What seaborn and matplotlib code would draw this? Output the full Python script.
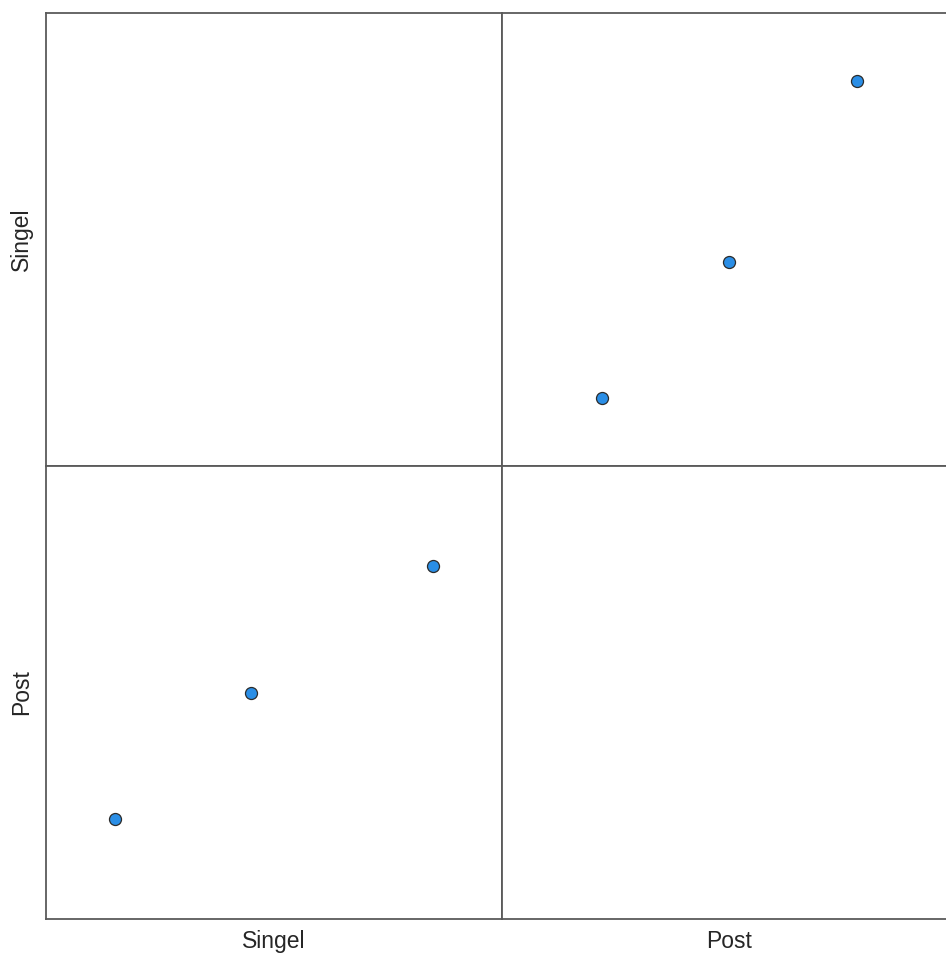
import matplotlib
matplotlib.use("Agg")
import matplotlib.pyplot as plt
import seaborn as sns
import pandas as pd

# Variables and their observed values
variables = ["Singel", "Post"]
singel = [3, 6, 10]
post = [2, 4, 6]

df = pd.DataFrame({"Singel": singel, "Post": post})

sns.set_theme(style="white")
plt.rcParams["font.family"] = ["Liberation Sans", "DejaVu Sans"]

g = sns.PairGrid(df, vars=variables, height=4.5, aspect=1.0)
g.map_offdiag(sns.scatterplot, color="#2a8ee6", edgecolor="#2b2b2b",
              linewidth=0.9, s=75)

fig = g.figure
fig.set_size_inches(9.46, 9.55)
fig.subplots_adjust(left=46 / 946, right=957 / 946, top=1 - 13 / 955,
                    bottom=1 - 919 / 955, wspace=0, hspace=0)

# Axis ranges (padded around the data)
limits = {"Singel": (1.49, 11.5), "Post": (0.43, 7.57)}
for i, yv in enumerate(variables):
    for j, xv in enumerate(variables):
        ax = g.axes[i, j]
        ax.set_xlim(*limits[xv])
        ax.set_ylim(*limits[yv])
        ax.set_xticks([])
        ax.set_yticks([])
        for sp in ax.spines.values():
            sp.set_color("#5a5a5a")
            sp.set_linewidth(1.3)
            sp.set_visible(True)
        ax.set_xlabel("")
        ax.set_ylabel("")

for j, name in enumerate(variables):
    ax = g.axes[-1, j]
    ax.set_xlabel(name, fontsize=16.5, color="#262626")
    ax.xaxis.label.set_va("center")
    ax.xaxis.set_label_coords(0.5, -22 / 453)

for i, name in enumerate(variables):
    ax = g.axes[i, 0]
    ax.set_ylabel(name, fontsize=16.5, color="#262626")
    ax.yaxis.label.set_va("center")
    ax.yaxis.set_label_coords(-24 / 455, 0.5)

fig.savefig("out.png", dpi=100)
